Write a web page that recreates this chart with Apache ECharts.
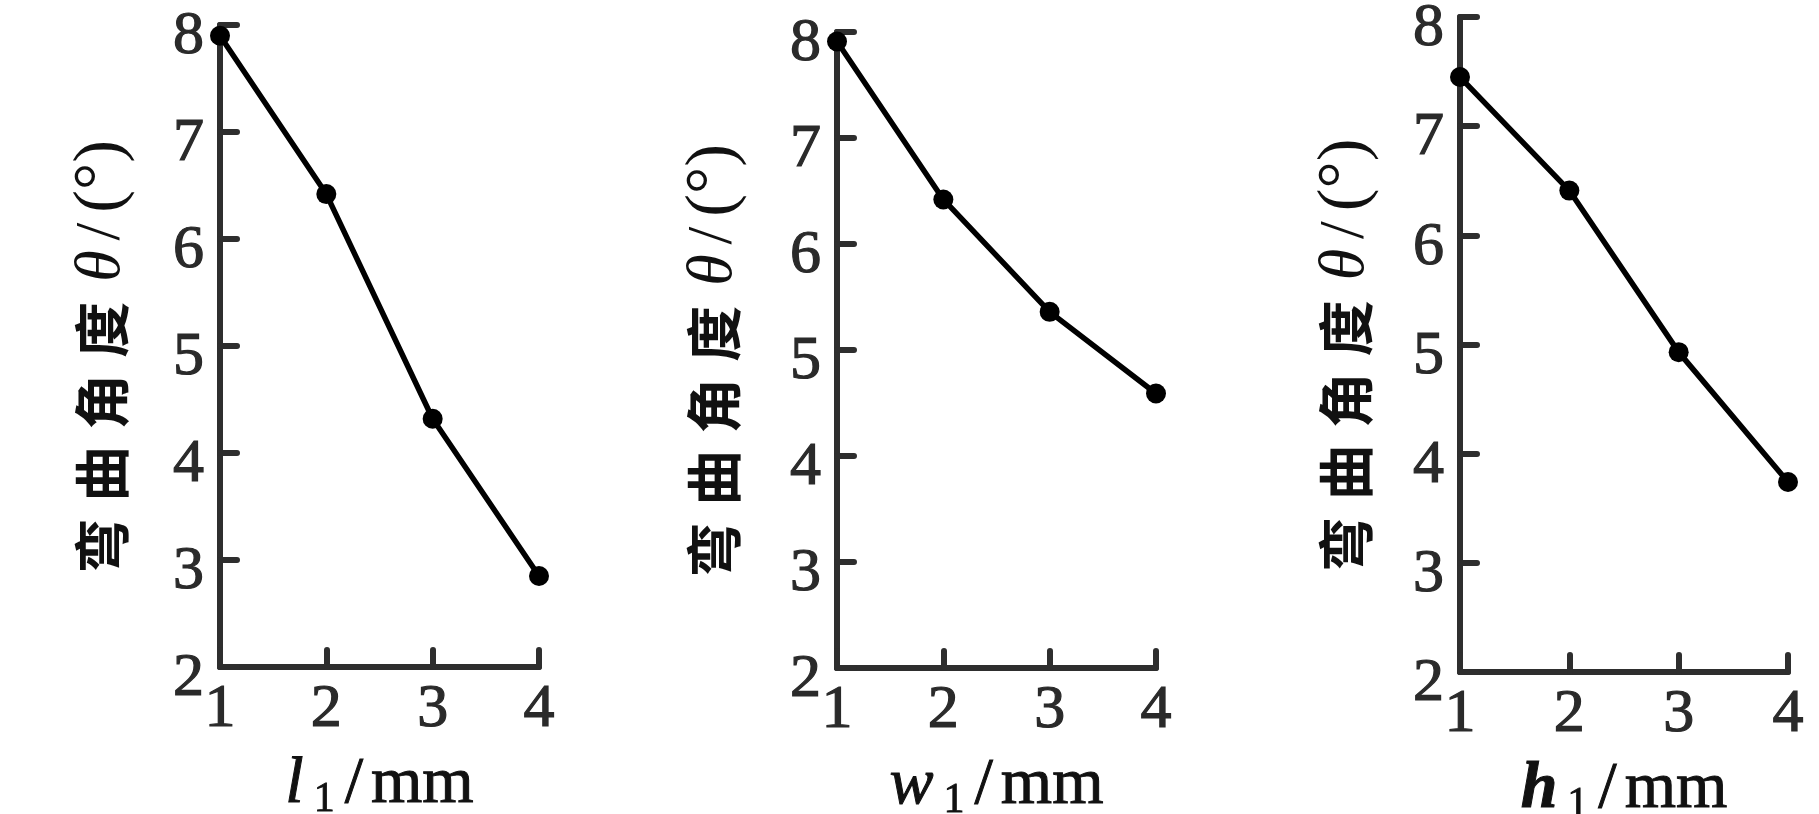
<!DOCTYPE html>
<html>
<head>
<meta charset="utf-8">
<script src="https://cdn.jsdelivr.net/npm/echarts@6/dist/echarts.min.js"></script>
<style>
html,body{margin:0;padding:0;background:#fff;}
#chart{width:1819px;height:814px;}
</style>
</head>
<body>
<div id="chart"></div>
<script>
// ---- data ----
const xValues = [1, 2, 3, 4];
const thetaL1 = [7.90, 6.42, 4.32, 2.85];
const thetaW1 = [7.91, 6.42, 5.36, 4.59];
const thetaH1 = [7.45, 6.41, 4.93, 3.74];
const xNames = ['l', 'w', 'h'];
const yName = ['弯', '曲', '角', '度'];

const AX = '#2e2e2e';
const LBL = '#2a2a2a';
const SERIF = '"Liberation Serif", "DejaVu Serif", serif';
const CJK = '"Noto Sans CJK SC", sans-serif';

const grids = [
  {left: 220, top: 25, width: 319, height: 642, outerBoundsMode: 'none', containLabel: false},
  {left: 837, top: 32, width: 319, height: 636, outerBoundsMode: 'none', containLabel: false},
  {left: 1460, top: 17, width: 328, height: 655, outerBoundsMode: 'none', containLabel: false}
];
const yGaps = [84, 89, 80];
const seriesData = [thetaL1, thetaW1, thetaH1];

function xAxisName(v) {
  return '{i|' + v + '}{s|1}{sl|/}{n|mm}';
}
const yNameText = yName.map(c => '{c|' + c + '}').join('') + '{t|θ}{sl|/}{p|(°)}';

const xAxes = [], yAxes = [], series = [];
grids.forEach((g, k) => {
  xAxes.push({
    gridIndex: k, type: 'value', min: 1, max: 4, interval: 1,
    axisLine: {lineStyle: {color: AX, width: 6, cap: 'round'}},
    axisTick: {inside: true, length: 17, lineStyle: {color: AX, width: 6, cap: 'round'}},
    splitLine: {show: false},
    axisLabel: {color: LBL, fontFamily: SERIF, fontSize: 62, margin: 12, textBorderColor: LBL, textBorderWidth: 1.2},
    name: xAxisName(xNames[k]),
    nameLocation: 'middle', nameGap: 82,
    nameTextStyle: {
      rich: {
        i: {fontFamily: SERIF, fontStyle: 'italic', fontSize: 66, color: '#111', fontWeight: k === 2 ? 'bold' : 'normal', textBorderColor: '#111', textBorderWidth: 1},
        s: {fontFamily: SERIF, fontSize: 42, color: '#111', padding: [30, 10, 0, 10], textBorderColor: '#111', textBorderWidth: 0.8},
        sl: {fontFamily: SERIF, fontSize: 66, color: '#111', padding: [0, 8, 0, 0], textBorderColor: '#111', textBorderWidth: 1},
        n: {fontFamily: SERIF, fontSize: 66, color: '#111', textBorderColor: '#111', textBorderWidth: 1}
      }
    }
  });
  yAxes.push({
    gridIndex: k, type: 'value', min: 2, max: 8, interval: 1,
    axisLine: {lineStyle: {color: AX, width: 6, cap: 'round'}},
    axisTick: {inside: true, length: 17, lineStyle: {color: AX, width: 6, cap: 'round'}},
    splitLine: {show: false},
    axisLabel: {
      color: LBL, fontFamily: SERIF, fontSize: 62, margin: 16,
      formatter: '{v|{value}}',
      rich: {v: {fontFamily: SERIF, fontSize: 62, color: LBL, padding: [24, 0, 0, 0], textBorderColor: LBL, textBorderWidth: 1.2}}
    },
    name: yNameText,
    nameLocation: 'middle', nameRotate: 90, nameGap: yGaps[k],
    nameTextStyle: {
      padding: [0, 30, 0, 0],
      rich: {
        c: {fontFamily: CJK, fontSize: 56, fontWeight: 'bold', color: '#111', padding: [0, 8, 0, 8]},
        t: {fontFamily: SERIF, fontStyle: 'italic', fontSize: 64, color: '#111', padding: [0, 6, 0, 12]},
        sl: {fontFamily: SERIF, fontSize: 64, color: '#111', padding: [0, 10, 0, 4]},
        p: {fontFamily: SERIF, fontSize: 68, color: '#111'}
      }
    }
  });
  series.push({
    type: 'line', xAxisIndex: k, yAxisIndex: k,
    data: xValues.map((x, i) => [x, seriesData[k][i]]),
    symbol: 'circle', symbolSize: 20, clip: false,
    lineStyle: {color: '#000', width: 5.5},
    itemStyle: {color: '#000'},
    animation: false
  });
});

const chart = echarts.init(document.getElementById('chart'));
chart.setOption({
  backgroundColor: '#fff',
  animation: false,
  grid: grids,
  xAxis: xAxes,
  yAxis: yAxes,
  series: series
});
</script>
</body>
</html>
